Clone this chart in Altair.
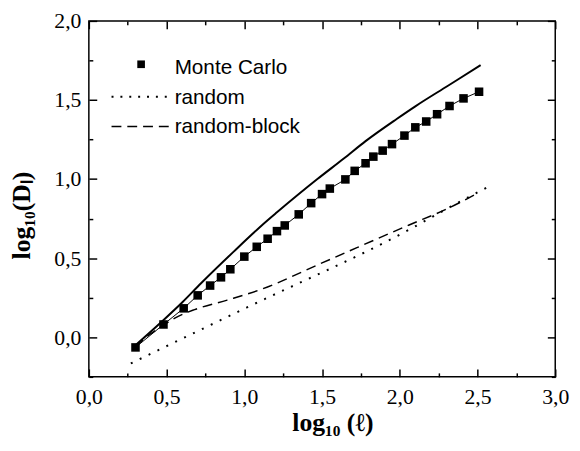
import altair as alt
import pandas as pd

# ---- data ----
mc_x = [0.30, 0.48, 0.61, 0.70, 0.78, 0.85, 0.91, 1.00, 1.08, 1.15, 1.21, 1.26,
        1.35, 1.43, 1.50, 1.55, 1.65, 1.71, 1.78, 1.83, 1.89, 1.95, 2.03, 2.10,
        2.17, 2.24, 2.32, 2.41, 2.51]
mc_y = [-0.064, 0.081, 0.183, 0.265, 0.327, 0.379, 0.430, 0.510, 0.572, 0.623,
        0.671, 0.707, 0.777, 0.848, 0.905, 0.940, 0.998, 1.052, 1.100, 1.142,
        1.180, 1.221, 1.275, 1.327, 1.364, 1.410, 1.462, 1.510, 1.552]

solid_x = [0.30, 0.47, 0.60, 0.72, 0.93, 1.15, 1.21, 1.47, 1.64, 1.78, 1.98, 2.10, 2.31, 2.52]
solid_y = [-0.05, 0.10, 0.22, 0.34, 0.54, 0.74, 0.79, 1.00, 1.13, 1.24, 1.38, 1.46, 1.59, 1.72]

block_x = [0.30, 0.38, 0.47, 0.55, 0.68, 0.89, 1.10, 1.50, 2.06, 2.30, 2.50]
block_y = [-0.06, 0.01, 0.07, 0.12, 0.175, 0.235, 0.30, 0.47, 0.71, 0.81, 0.91]

random_x = [0.27, 1.02, 2.06, 2.33, 2.60]
random_y = [-0.165, 0.19, 0.68, 0.827, 0.967]

x_ticks = [0.0, 0.25, 0.5, 0.75, 1.0, 1.25, 1.5, 1.75, 2.0, 2.25, 2.5, 2.75, 3.0]
y_ticks = [-0.25, 0.0, 0.25, 0.5, 0.75, 1.0, 1.25, 1.5, 1.75, 2.0]

legend_labels = ["Monte Carlo", "random", "random-block"]

# ---- helpers ----
W, H = 473, 361
is_major = "abs(datum.value*2 - round(datum.value*2)) < 0.001"
tick_expr = alt.ExprRef(f"{is_major} ? -8 : -4")
label_expr = f"{is_major} ? replace(format(datum.value, '.1f'), '.', ',') : ''"

SERIF = "Liberation Serif"
SANS = "Liberation Sans"

x_axis = alt.Axis(values=x_ticks, labelExpr=label_expr, tickSize=tick_expr,
                  tickColor="black", tickWidth=1.5, domain=False, grid=False,
                  labelFont=SERIF, labelFontSize=22, labelColor="black",
                  labelPadding=18, labelFlush=False,
                  title="log₁₀ (ℓ)", titleFont=SERIF, titleFontSize=26,
                  titleFontWeight="bold", titleColor="black",
                  titleX=247, titleY=54, titleBaseline="alphabetic",
                  titleAnchor="start", titleAlign="center")
y_axis = alt.Axis(values=y_ticks, labelExpr=label_expr, tickSize=tick_expr,
                  tickColor="black", tickWidth=1.5, domain=False, grid=False,
                  labelFont=SERIF, labelFontSize=22, labelColor="black",
                  labelPadding=16, labelFlush=False,
                  title="log₁₀(Dₗ)", titleFont=SERIF, titleFontSize=26,
                  titleFontWeight="bold", titleColor="black",
                  titleX=-68, titleY=197, titleAngle=-90, titleBaseline="middle",
                  titleAlign="center")
x_top = alt.Axis(orient="top", values=x_ticks, tickSize=tick_expr, tickColor="black",
                 tickWidth=1.5, labels=False, domain=False, grid=False, title=None)
y_right = alt.Axis(orient="right", values=y_ticks, tickSize=tick_expr, tickColor="black",
                   tickWidth=1.5, labels=False, domain=False, grid=False, title=None)

xs = alt.Scale(domain=[0, 3], nice=False, zero=False)
ys = alt.Scale(domain=[-0.25, 2.0], nice=False, zero=False)


def enc(chart, xa=x_axis, ya=y_axis):
    return chart.encode(
        x=alt.X("x:Q", scale=xs, axis=xa),
        y=alt.Y("y:Q", scale=ys, axis=ya),
        order="x:Q",
    )


df_mc = pd.DataFrame({"x": mc_x, "y": mc_y})
df_solid = pd.DataFrame({"x": solid_x, "y": solid_y})
df_block = pd.DataFrame({"x": block_x, "y": block_y})
df_rand = pd.DataFrame({"x": random_x, "y": random_y})

solid = enc(alt.Chart(df_solid).mark_line(color="black", strokeWidth=2, interpolate="monotone"))
block = enc(alt.Chart(df_block).mark_line(color="black", strokeWidth=1.5, strokeDash=[10, 6],
                                          interpolate="monotone"))
rand = enc(alt.Chart(df_rand).mark_line(color="black", strokeWidth=2, strokeDash=[2, 8],
                                        interpolate="monotone"))
mc_line = enc(alt.Chart(df_mc).mark_line(color="black", strokeWidth=1))
mc_pts = enc(alt.Chart(df_mc).mark_point(shape="square", filled=True, color="black",
                                         size=75, opacity=1))

one = pd.DataFrame({"label": [0]})
leg_sq = alt.Chart(one).mark_point(shape="square", filled=True, color="black",
                                   size=60, opacity=1).encode(
    x=alt.value(53), y=alt.value(44))
leg_dot = alt.Chart(one).mark_rule(color="black", strokeWidth=2, strokeDash=[2, 7]).encode(
    x=alt.value(23), x2=alt.value(81), y=alt.value(77))
leg_dash = alt.Chart(one).mark_rule(color="black", strokeWidth=1.5, strokeDash=[10, 6]).encode(
    x=alt.value(23), x2=alt.value(81), y=alt.value(107))

leg_texts = []
for lab, ty in zip(legend_labels, [54, 84, 114]):
    leg_texts.append(
        alt.Chart(pd.DataFrame({"t": [lab]})).mark_text(
            font=SANS, fontSize=21, align="left", baseline="alphabetic", color="black"
        ).encode(text="t:N", x=alt.value(87), y=alt.value(ty))
    )

main = alt.layer(solid, block, rand, mc_line, mc_pts, leg_sq, leg_dot, leg_dash, *leg_texts)
mirror = enc(alt.Chart(df_solid).mark_line(opacity=0), xa=x_top, ya=y_right)

chart = alt.layer(main, mirror).resolve_axis(x="independent", y="independent").properties(
    width=W, height=H,
    autosize=alt.AutoSizeParams(type="none"),
    padding={"left": 82, "top": 10, "right": 17, "bottom": 62},
    background="white",
).configure_view(stroke="black", strokeWidth=1.5)

chart.save("out.html", embed_options={"renderer": "svg", "actions": False})
